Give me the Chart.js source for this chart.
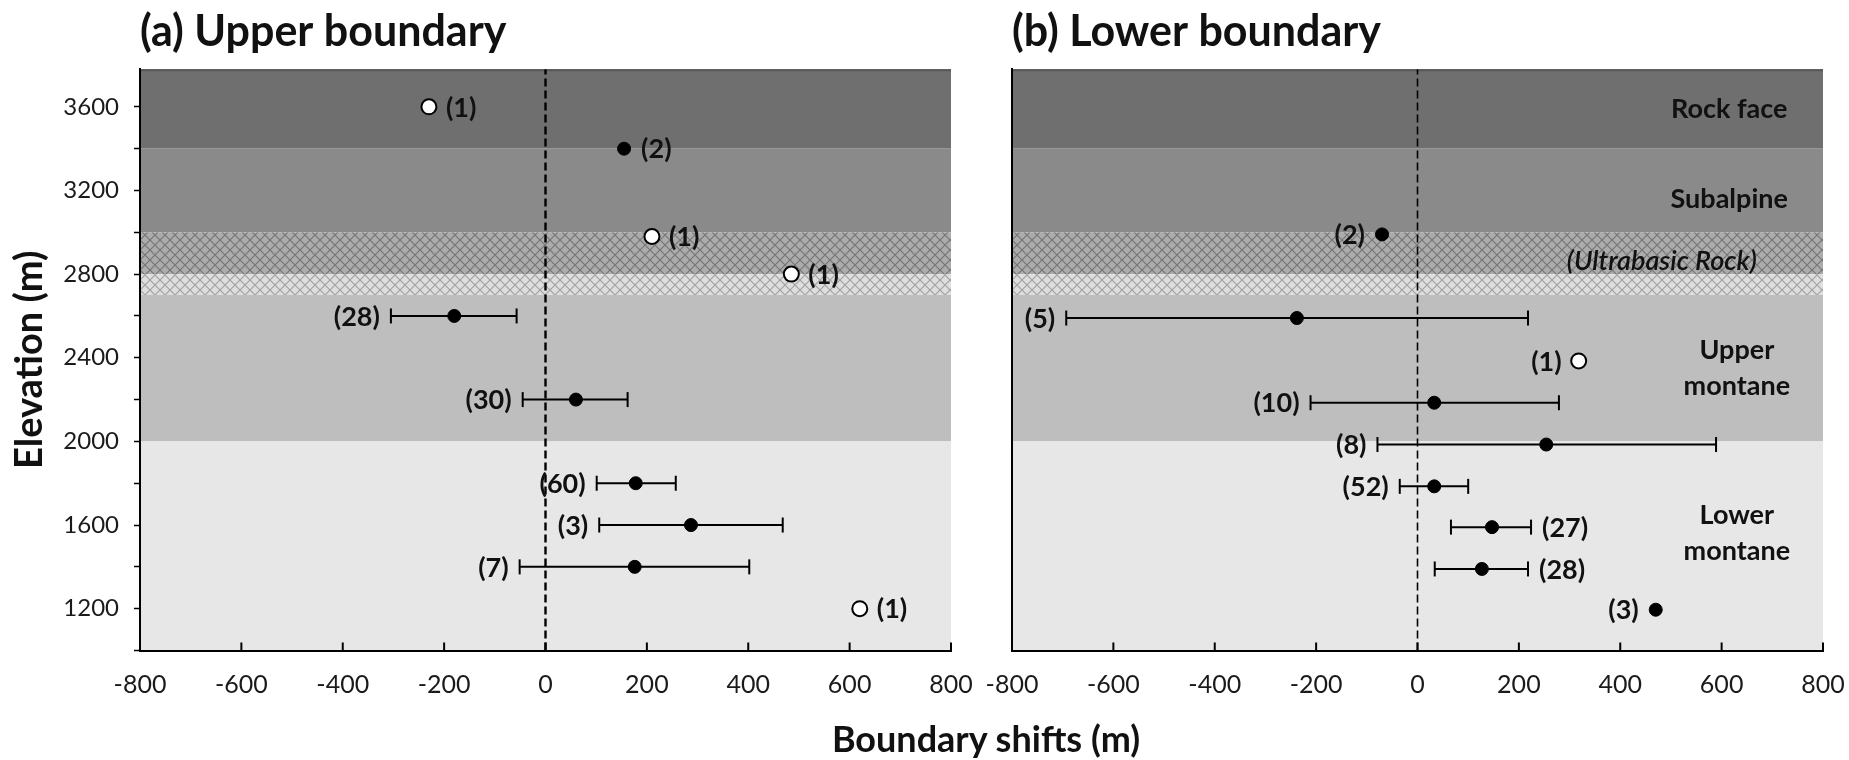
<!DOCTYPE html>
<html>
<head>
<meta charset="utf-8">
<script src="https://cdn.jsdelivr.net/npm/chart.js@4.4.1/dist/chart.umd.min.js"></script>
<style>
html,body{margin:0;padding:0;background:#fff;}
body{width:1849px;height:760px;position:relative;overflow:hidden;font-family:Lato,'Open Sans',sans-serif;}
#wa{position:absolute;left:0;top:0;width:982px;height:760px;}
#wb{position:absolute;left:982px;top:0;width:867px;height:760px;}
#xt{position:absolute;left:736px;top:714px;width:500px;text-align:center;font:bold 36px/48px Lato,'Open Sans',sans-serif;color:#111;}
</style>
</head>
<body>
<div id="wa"><canvas id="ca"></canvas></div>
<div id="wb"><canvas id="cb"></canvas></div>
<div id="xt">Boundary shifts (m)</div>
<script>
// ---------- axes ----------
const shiftMin = -800, shiftMax = 800;
const elevMin = 1000, elevMax = 3780;
const shiftTicks = [-800, -600, -400, -200, 0, 200, 400, 600, 800];
const elevTicks = [1000, 1200, 1400, 1600, 1800, 2000, 2200, 2400, 2600, 2800, 3000, 3200, 3400, 3600];
const elevTickLabels = [1200, 1600, 2000, 2400, 2800, 3200, 3600];

// ---------- vegetation zones (elevation bands) ----------
const zoneTop    = [3780, 3400, 3000, 2800, 2700, 2000];
const zoneBottom = [3400, 3000, 2800, 2700, 2000, 1000];
const zoneLabelText  = [['Rock face'], ['Subalpine'], ['(Ultrabasic Rock)'], ['Upper', 'montane'], ['Lower', 'montane']];
const zoneLabelElev  = [3590, 3160, 2860, 2350, 1560];
const zoneLabelShift = [615, 615, 482, 630, 630];

// ---------- (a) upper boundary ----------
const upperElev  = [3600, 3400, 2980, 2800, 2600, 2200, 1800, 1600, 1400, 1200];
const upperShift = [-230, 155, 210, 485, -180, 60, 178, 287, 176, 620];
const upperLow   = [null, null, null, null, -305, -45, 101, 106, -51, null];
const upperHigh  = [null, null, null, null, -57, 162, 257, 468, 402, null];
const upperN     = [1, 2, 1, 1, 28, 30, 60, 3, 7, 1];

// ---------- (b) lower boundary ----------
const lowerElev  = [2990, 2590, 2385, 2185, 1985, 1785, 1590, 1390, 1195];
const lowerShift = [-70, -238, 318, 33, 254, 33, 147, 127, 470];
const lowerLow   = [null, -693, null, -211, -79, -35, 66, 34, null];
const lowerHigh  = [null, 218, null, 279, 589, 100, 224, 218, null];
const lowerN     = [2, 5, 1, 10, 8, 52, 27, 28, 3];

// label placement (styling)
const upperLabelSide = ['right', 'right', 'right', 'right', 'left', 'left', 'left', 'left', 'left', 'right'];
const lowerLabelSide = ['left', 'left', 'left', 'left', 'left', 'left', 'right', 'right', 'left'];

const FONT = "Lato, 'Open Sans', sans-serif";
Chart.defaults.font.family = FONT;
Chart.defaults.color = '#1a1a1a';
Chart.defaults.animation = false;

function hatchPattern(ctx, base, line) {
  const c = document.createElement('canvas');
  c.width = 10; c.height = 10;
  const g = c.getContext('2d');
  g.fillStyle = base; g.fillRect(0, 0, 10, 10);
  g.strokeStyle = line; g.lineWidth = 1.2;
  g.beginPath();
  g.moveTo(-1, -1); g.lineTo(11, 11);
  g.moveTo(11, -1); g.lineTo(-1, 11);
  g.stroke();
  return ctx.createPattern(c, 'repeat');
}

const zonePlugin = {
  id: 'zones',
  beforeDraw(chart) {
    const {ctx, chartArea: {left, right, top}, scales: {y}} = chart;
    const fills = ['#6f6f6f', '#8a8a8a',
      hatchPattern(ctx, '#acacac', '#767676'),
      hatchPattern(ctx, '#dedede', '#a2a2a2'),
      '#bebebe', '#e7e7e7'];
    ctx.save();
    zoneTop.forEach((t, i) => {
      const y0 = y.getPixelForValue(t), y1 = y.getPixelForValue(zoneBottom[i]);
      ctx.fillStyle = fills[i];
      ctx.fillRect(left, y0, right - left, y1 - y0);
    });
    ctx.fillStyle = '#585858';
    ctx.fillRect(left, top, right - left, 2);
    ctx.restore();
  }
};

const tickInPlugin = {
  id: 'tickIn',
  afterDraw(chart) {
    const {ctx, chartArea: {bottom}, scales: {x}} = chart;
    ctx.save();
    ctx.strokeStyle = '#000'; ctx.lineWidth = 2;
    shiftTicks.forEach(v => {
      const px = x.getPixelForValue(v);
      ctx.beginPath(); ctx.moveTo(px, bottom); ctx.lineTo(px, bottom - 8); ctx.stroke();
    });
    ctx.restore();
  }
};

function countPlugin(elev, shift, low, high, n, side) {
  return {
    id: 'counts',
    afterDatasetsDraw(chart) {
      const {ctx, scales: {x, y}} = chart;
      ctx.save();
      ctx.font = 'bold 27px ' + FONT;
      ctx.fillStyle = '#111';
      ctx.textBaseline = 'middle';
      elev.forEach((e, i) => {
        const py = y.getPixelForValue(e) + 1;
        const txt = '(' + n[i] + ')';
        const bar = low[i] != null;
        if (side[i] === 'left') {
          const px = x.getPixelForValue(bar ? low[i] : shift[i]);
          ctx.textAlign = 'right';
          ctx.fillText(txt, px - (bar ? 11 : 17), py);
        } else {
          const px = x.getPixelForValue(bar ? high[i] : shift[i]);
          ctx.textAlign = 'left';
          ctx.fillText(txt, px + (bar ? 11 : 17), py);
        }
      });
      ctx.restore();
    }
  };
}

const zoneLabelPlugin = {
  id: 'zoneLabels',
  beforeDatasetsDraw(chart) {
    const {ctx, scales: {x, y}} = chart;
    ctx.save();
    ctx.fillStyle = '#111';
    ctx.textAlign = 'center';
    ctx.textBaseline = 'middle';
    zoneLabelText.forEach((lines, i) => {
      ctx.font = (lines[0].startsWith('(') ? 'italic 600 ' : 'bold ') + '27px ' + FONT;
      const px = x.getPixelForValue(zoneLabelShift[i]);
      const py = y.getPixelForValue(zoneLabelElev[i]);
      const lh = 36;
      lines.forEach((s, k) => {
        ctx.fillText(s, px, py + (k - (lines.length - 1) / 2) * lh);
      });
    });
    ctx.restore();
  }
};

function buildDatasets(elev, shift, low, high, n, dashWidth) {
  const ds = [];
  ds.push({
    type: 'scatter',
    data: elev.map((e, i) => ({x: shift[i], y: e})),
    pointRadius: n.map(v => v === 1 ? 7.5 : 6.5),
    pointBackgroundColor: n.map(v => v === 1 ? '#ffffff' : '#000000'),
    pointBorderColor: '#000',
    pointBorderWidth: n.map(v => v === 1 ? 2 : 1),
    order: 0,
    clip: false
  });
  elev.forEach((e, i) => {
    if (low[i] == null) return;
    ds.push({
      type: 'line',
      data: [{x: low[i], y: e}, {x: high[i], y: e}],
      borderColor: '#000',
      borderWidth: 2,
      pointStyle: 'line',
      pointRotation: 90,
      pointRadius: 7.5,
      pointBorderWidth: 2,
      pointBorderColor: '#000',
      order: 1,
      clip: false
    });
  });
  ds.push({
    type: 'line',
    data: [{x: 0, y: elevMin}, {x: 0, y: elevMax}],
    borderColor: '#000',
    borderWidth: dashWidth,
    borderDash: [8, 4],
    pointRadius: 0,
    order: 2
  });
  return ds;
}

function makePanel(canvasId, title, elev, shift, low, high, n, side, isLeft) {
  const plugins = [zonePlugin, tickInPlugin, countPlugin(elev, shift, low, high, n, side)];
  if (!isLeft) plugins.push(zoneLabelPlugin);
  return new Chart(document.getElementById(canvasId), {
    type: 'scatter',
    data: {datasets: buildDatasets(elev, shift, low, high, n, isLeft ? 2.4 : 1.6)},
    plugins,
    options: {
      responsive: true,
      maintainAspectRatio: false,
      events: [],
      layout: {padding: {left: 0, right: isLeft ? 31 : 26, top: 0, bottom: 0}},
      plugins: {
        legend: {display: false},
        tooltip: {enabled: false},
        title: {
          display: true, text: title, align: 'start', fullSize: false,
          color: '#111',
          font: {size: 43, weight: 'bold'},
          padding: {top: 6, bottom: 11.6}
        }
      },
      scales: {
        x: {
          type: 'linear', min: shiftMin, max: shiftMax,
          afterBuildTicks: s => { s.ticks = shiftTicks.map(v => ({value: v})); },
          afterFit: s => { s.height = 109.5; s.paddingLeft = 0; s.paddingRight = 0; },
          ticks: {font: {size: 25}, color: '#1a1a1a', padding: 19, maxRotation: 0, autoSkip: false},
          grid: {drawOnChartArea: false, drawTicks: false},
          border: {display: true, color: '#000', width: 2}
        },
        y: {
          type: 'linear', min: elevMin, max: elevMax,
          afterBuildTicks: s => { s.ticks = elevTicks.map(v => ({value: v})); },
          afterFit: s => { s.width = isLeft ? 140 : 30; s.paddingTop = 0; s.paddingBottom = 0; },
          ticks: {
            display: isLeft, font: {size: 24}, color: '#1a1a1a', padding: 15, autoSkip: false,
            callback: v => elevTickLabels.includes(v) ? String(v) : ''
          },
          grid: {drawOnChartArea: false, drawTicks: isLeft, tickLength: 6, color: '#000', tickWidth: 1.5},
          border: {display: true, color: '#000', width: 2},
          title: {
            display: isLeft, text: 'Elevation (m)', color: '#111',
            font: {size: 38, weight: 'bold'}, padding: {top: 7, bottom: 0}
          }
        }
      }
    }
  });
}

makePanel('ca', '(a) Upper boundary', upperElev, upperShift, upperLow, upperHigh, upperN, upperLabelSide, true);
makePanel('cb', '(b) Lower boundary', lowerElev, lowerShift, lowerLow, lowerHigh, lowerN, lowerLabelSide, false);
</script>
</body>
</html>
